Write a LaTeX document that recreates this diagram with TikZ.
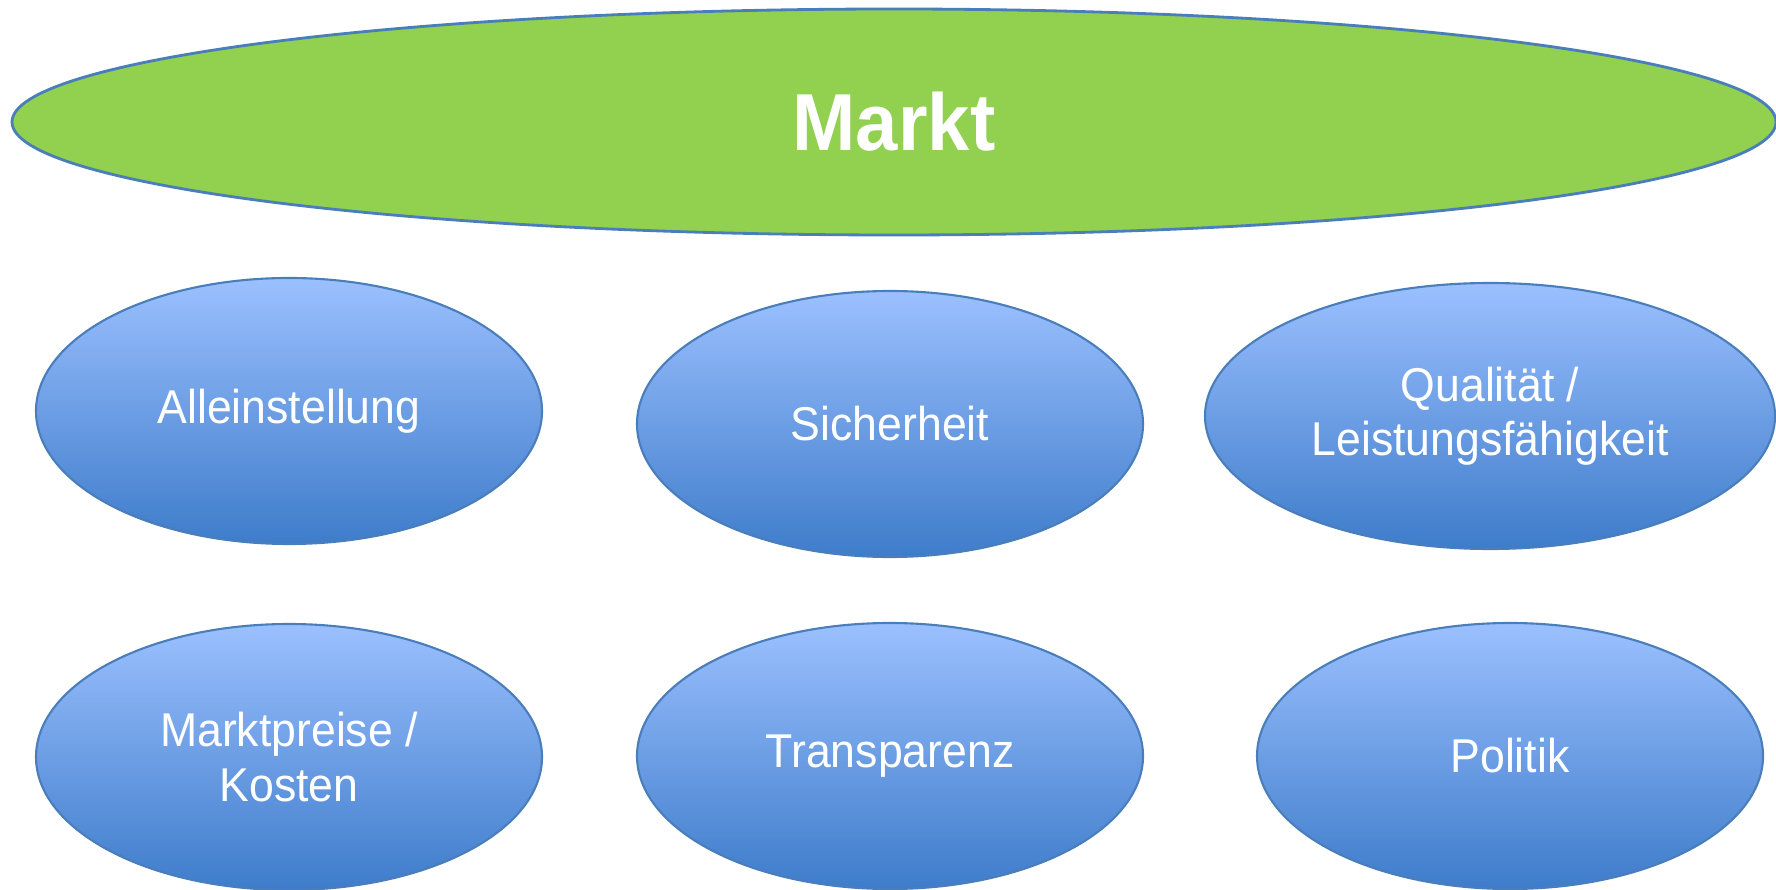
\documentclass[tikz,border=0pt]{standalone}
\usepackage{fontspec}
\setmainfont{Liberation Sans}[FakeStretch=0.94]
\usetikzlibrary{shapes.geometric}
\definecolor{outline}{RGB}{74,126,187}
\definecolor{markgreen}{RGB}{146,208,80}
\definecolor{topblue}{RGB}{155,192,255}
\definecolor{botblue}{RGB}{62,124,202}
\tikzset{
  topic/.style={ellipse,draw=outline,line width=0.6pt,top color=topblue,bottom color=botblue,
    inner sep=0pt,minimum width=5.06cm,minimum height=2.66cm,text=white,align=center,
    font=\fontsize{13.5}{15.5}\selectfont},
  market/.style={ellipse,draw=outline,line width=0.8pt,fill=markgreen,inner sep=0pt,
    minimum width=17.64cm,minimum height=2.26cm,text=white,
    font=\fontsize{23}{26}\selectfont\bfseries}
}
\begin{document}
\begin{tikzpicture}
  \useasboundingbox (0,0) rectangle (17.76,8.89);
  % top
  \node[market] (markt) at (8.94,7.67) {Markt};
  % first row
  \node[topic] (allein) at (2.89,4.78) {Alleinstellung};
  \node[topic] (sicher) at (8.90,4.65) {Sicherheit};
  \node[topic,minimum width=5.70cm] (quali) at (14.90,4.73) {Qualit\"at /\\Leistungsf\"ahigkeit};
  % second row
  \node[topic] (preise) at (2.89,1.32) {Marktpreise /\\Kosten};
  \node[topic] (transp) at (8.90,1.33) {Transparenz};
  \node[topic] (politik) at (15.10,1.33) {Politik};
\end{tikzpicture}
\end{document}
